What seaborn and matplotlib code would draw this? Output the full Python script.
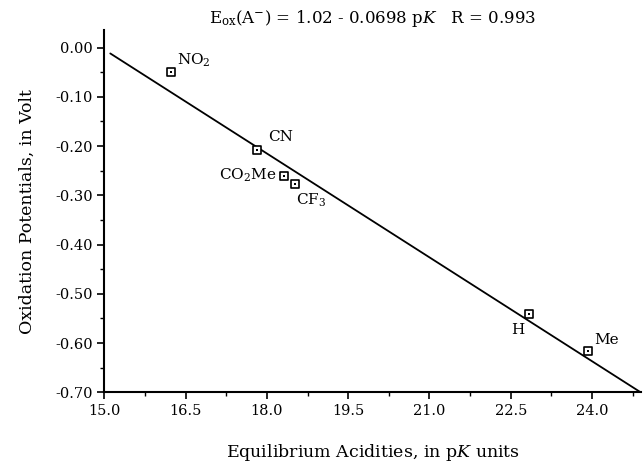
import numpy as np
import pandas as pd
import matplotlib
matplotlib.use("Agg")
import matplotlib.pyplot as plt
import seaborn as sns

# data
pk_values = [16.23, 17.82, 18.32, 18.51, 22.83, 23.92]
e_ox_values = [-0.050, -0.208, -0.260, -0.277, -0.540, -0.617]
substituents = ["NO$_2$", "CN", "CO$_2$Me", "CF$_3$", "H", "Me"]

# regression line as drawn
fit_pk = [15.11, 24.90]
fit_e = [-0.012, -0.700]

x_ticks = [15.0, 16.5, 18.0, 19.5, 21.0, 22.5, 24.0]
y_ticks = [0.00, -0.10, -0.20, -0.30, -0.40, -0.50, -0.60, -0.70]

sns.set_style("ticks")
plt.rcParams['font.family'] = ['DejaVu Serif']
plt.rcParams['mathtext.fontset'] = 'dejavuserif'
plt.rcParams['text.color'] = 'black'
plt.rcParams['axes.labelcolor'] = 'black'
plt.rcParams['xtick.labelcolor'] = 'black'
plt.rcParams['ytick.labelcolor'] = 'black'

df = pd.DataFrame({"pK": pk_values, "E": e_ox_values, "sub": substituents})
df_fit = pd.DataFrame({"pK": fit_pk, "E": fit_e})

fig, ax = plt.subplots(figsize=(6.44, 4.66), dpi=100)
fig.subplots_adjust(left=0.162, right=0.995, top=0.935, bottom=0.158)

sns.lineplot(data=df_fit, x="pK", y="E", ax=ax, color="black", lw=1.3)
sns.scatterplot(data=df, x="pK", y="E", ax=ax, marker="s", s=28,
                facecolor="white", edgecolor="black", linewidth=1.2, zorder=3)
sns.scatterplot(data=df, x="pK", y="E", ax=ax, marker="s", s=2,
                color="black", linewidth=0, zorder=4)

# label offsets in points
offsets = {
    "NO$_2$": (4, 2, "left", "bottom"),
    "CN": (8, 9, "left", "center"),
    "CO$_2$Me": (-6, 0, "right", "center"),
    "CF$_3$": (1, -12, "left", "center"),
    "H": (-8, -12, "center", "center"),
    "Me": (5, 8, "left", "center"),
}
for x, y, s in zip(pk_values, e_ox_values, substituents):
    dx, dy, ha, va = offsets[s]
    ax.annotate(s, (x, y), xytext=(dx, dy), textcoords="offset points",
                ha=ha, va=va, fontsize=11)

ax.set_xlim(15.0, 24.9)
ax.set_ylim(-0.70, 0.035)
ax.set_xticks(x_ticks)
ax.set_xticklabels([f"{t:.1f}" for t in x_ticks])
ax.set_xticks(np.array(x_ticks) + 0.75, minor=True)
ax.set_yticks(y_ticks)
ax.set_yticklabels([f"{t:.2f}" for t in y_ticks])
ax.set_yticks(np.array(y_ticks[1:]) + 0.05, minor=True)
ax.tick_params(which="major", direction="out", length=5, width=1.2, labelsize=10.5, color="black")
ax.tick_params(which="minor", direction="out", length=3, width=1.0, color="black")
for sp in ["left", "bottom"]:
    ax.spines[sp].set_linewidth(1.5)
    ax.spines[sp].set_color("black")
sns.despine(ax=ax)

ax.set_xlabel("Equilibrium Acidities, in p$K$ units", fontsize=12.5, labelpad=17)
ax.set_ylabel("Oxidation Potentials, in Volt", fontsize=12.5, labelpad=14)
ax.set_title("E$_{\\rm ox}$(A$^{-}$) = 1.02 - 0.0698 p$K$   R = 0.993", fontsize=12, pad=5)

fig.savefig("out.png", dpi=100)
